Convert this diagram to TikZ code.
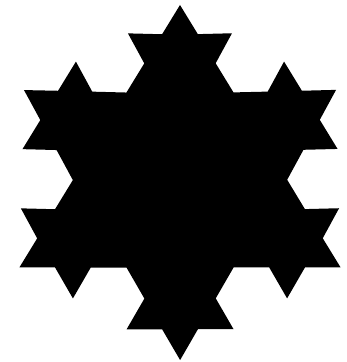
\documentclass[tikz,border=0pt]{standalone}
\usetikzlibrary{decorations.fractals}
\begin{document}
\begin{tikzpicture}[x=1pt,y=1pt,
    flake/.style={fill=black, line join=miter, decoration=Koch snowflake}]
  \useasboundingbox (0,0) rectangle (346,362);
  % base triangle, decorated twice
  \begin{scope}[shift={(180,182)}, xscale=1.06]
    \fill[flake] decorate{decorate{(90:175) -- (330:175) -- (210:175) -- cycle}};
  \end{scope}
\end{tikzpicture}
\end{document}
